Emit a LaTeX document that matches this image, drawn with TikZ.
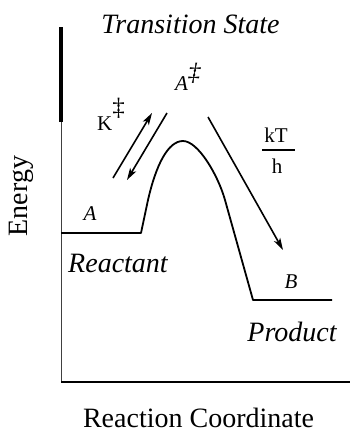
\documentclass[tikz,border=0pt]{standalone}
\usepackage{fontspec}
\setmainfont{Liberation Serif}
\usetikzlibrary{arrows.meta}
\begin{document}
\begin{tikzpicture}[x=1pt,y=-1pt,
  big/.style={font=\fontsize{28}{30}\selectfont, inner sep=0pt},
  bigit/.style={font=\fontsize{28}{30}\selectfont\itshape, inner sep=0pt},
  small/.style={font=\fontsize{21}{24}\selectfont, inner sep=0pt},
  curveline/.style={line width=1.8pt, line join=round},
  arr/.style={line width=1.6pt, -{Stealth[length=12pt,width=7pt,inset=3pt]}},
]
\useasboundingbox (0,0) rectangle (350,434);
% axes
\coordinate (ytop) at (61,27);
\coordinate (ymid) at (61,122);
\coordinate (origin) at (61,382);
\coordinate (xend) at (350,382);
\draw[line width=3.5pt] (ytop) -- (ymid);
\draw[line width=1pt, black!75] (ymid) -- (origin);
\draw[line width=2pt] (origin) -- (xend);
% energy profile
\coordinate (r0) at (61,233);
\coordinate (r1) at (141,233);
\coordinate (l1) at (148,200);
\coordinate (peak) at (183,141);
\coordinate (d1) at (225,200);
\coordinate (p0) at (253,300);
\coordinate (p1) at (332,300);
\draw[curveline] (r0) -- (r1) -- (l1) .. controls (156,165) and (168,141) .. (peak)
  .. controls (198,141) and (218,175) .. (d1) -- (p0) -- (p1);
% arrows
\coordinate (u0) at (113,178);
\coordinate (u1) at (152,113);
\coordinate (dn0) at (167,113);
\coordinate (dn1) at (127,180);
\coordinate (f0) at (208,117);
\coordinate (f1) at (283,250);
\draw[arr] (u0) -- (u1);
\draw[arr] (dn0) -- (dn1);
\draw[arr] (f0) -- (f1);
% labels
\node[bigit, anchor=base] (ts) at (190.5,33) {Transition State};
\node[small, anchor=base west] (Ats) at (175,90) {\textit{A}\raisebox{0.45em}{\fontsize{25}{25}\selectfont\textit{‡}}};
\node[small, anchor=base west] (K) at (97,130) {K\raisebox{0.7em}{\fontsize{25}{25}\selectfont ‡}};
\node[small, anchor=base] (kT) at (276,142) {kT};
\coordinate (bar0) at (262,150);
\coordinate (bar1) at (295,150);
\draw[line width=2pt] (bar0) -- (bar1);
\node[small, anchor=base] (h) at (277,173) {h};
\node[small, anchor=base] (A) at (90,220) {\textit{A}};
\node[bigit, anchor=base] (reac) at (118,272) {Reactant};
\node[small, anchor=base] (B) at (291,288) {\textit{B}};
\node[bigit, anchor=base] (prod) at (292,341) {Product};
\node[big, anchor=base] (rc) at (198.5,427) {Reaction Coordinate};
\node[big, rotate=90] (en) at (21,196) {Energy};
\end{tikzpicture}
\end{document}
